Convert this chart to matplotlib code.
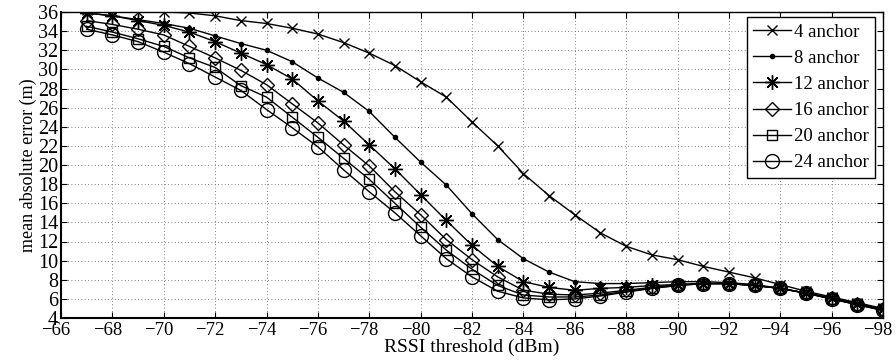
import numpy as np
import matplotlib
matplotlib.use('Agg')
import matplotlib.pyplot as plt
import matplotlib.transforms as mtransforms

plt.rcParams['font.family'] = ['Liberation Serif', 'DejaVu Serif']

# Umbral RSSI (dBm)
rssi = list(range(-67, -99, -1))

# Error medio absoluto (m) para cada numero de anclas
err_4 = [36.2, 36.1, 36.0, 36.0, 35.9, 35.6, 35.1, 34.8, 34.3, 33.7, 32.8, 31.7, 30.4, 28.7, 27.1, 24.5,
         22.0, 19.1, 16.8, 14.8, 12.9, 11.5, 10.6, 10.1, 9.4, 8.8, 8.2, 7.5, 6.8, 6.2, 5.6, 5.0]
err_8 = [35.9, 35.6, 35.2, 34.8, 34.3, 33.5, 32.7, 32.0, 30.8, 29.1, 27.6, 25.6, 22.9, 20.3, 17.9, 14.9,
         12.2, 10.2, 8.8, 7.8, 7.6, 7.6, 7.7, 7.8, 7.8, 7.7, 7.5, 7.1, 6.6, 6.1, 5.5, 4.9]
err_12 = [35.9, 35.6, 35.1, 34.6, 33.9, 32.9, 31.7, 30.5, 29.0, 26.7, 24.6, 22.1, 19.6, 16.9, 14.2, 11.6,
          9.4, 7.8, 7.2, 6.9, 7.1, 7.2, 7.4, 7.5, 7.6, 7.6, 7.4, 7.1, 6.6, 6.1, 5.5, 4.9]
err_16 = [35.1, 34.7, 34.2, 33.6, 32.4, 31.2, 29.9, 28.4, 26.4, 24.4, 22.1, 19.9, 17.2, 14.8, 12.2, 10.1,
          8.3, 6.9, 6.5, 6.4, 6.6, 6.9, 7.2, 7.5, 7.6, 7.6, 7.4, 7.1, 6.6, 6.0, 5.4, 4.8]
err_20 = [34.5, 33.9, 33.2, 32.4, 31.2, 30.2, 28.3, 27.1, 25.0, 22.9, 20.7, 18.5, 16.0, 13.5, 11.1, 9.1,
          7.4, 6.4, 6.2, 6.2, 6.4, 6.8, 7.1, 7.4, 7.6, 7.6, 7.4, 7.1, 6.6, 6.0, 5.4, 4.8]
err_24 = [34.2, 33.6, 32.9, 31.8, 30.6, 29.2, 27.8, 25.8, 23.9, 21.9, 19.5, 17.2, 15.0, 12.6, 10.2, 8.3,
          6.8, 6.1, 5.9, 6.0, 6.3, 6.7, 7.1, 7.4, 7.6, 7.6, 7.4, 7.1, 6.6, 6.0, 5.4, 4.8]

fig = plt.figure(figsize=(8.96, 3.62), dpi=100)
ax = fig.add_axes([61 / 896, 44 / 362, 822 / 896, 306 / 362])

k = dict(color='k', lw=1.0, mfc='none', mec='k', mew=1.0)
ax.plot(rssi, err_4, marker='x', ms=7.5, label='4 anchor', **k)
ax.plot(rssi, err_8, marker='.', ms=6, label='8 anchor', color='k', lw=1.0)
ax.plot(rssi, err_12, marker=(8, 2, 0), ms=10.5, label='12 anchor', **k)
ax.plot(rssi, err_16, marker='D', ms=7.5, label='16 anchor', **k)
ax.plot(rssi, err_20, marker='s', ms=7.5, label='20 anchor', **k)
ax.plot(rssi, err_24, marker='o', ms=10, label='24 anchor', **k)

ax.set_xlim(-66, -98)
ax.set_ylim(4, 36)
ax.set_xticks(np.arange(-66, -99, -2))
ax.set_yticks(np.arange(4, 37, 2))
ax.tick_params(direction='in', length=4, top=True, right=True, pad=2)
ax.tick_params(axis='x', labelsize=13.5, pad=3)
ax.tick_params(axis='y', labelsize=14.5)
ax.grid(True, linestyle=(0, (1, 3)), color='0.35', lw=0.6)
for s in ['left', 'bottom']:
    ax.spines[s].set_linewidth(1.5)
for s in ['top', 'right']:
    ax.spines[s].set_linewidth(1.0)

# las etiquetas del eje x van un poco a la izquierda, como en el original
shift = mtransforms.ScaledTranslation(-5 / 100, 0, fig.dpi_scale_trans)
for lab in ax.get_xticklabels():
    lab.set_transform(lab.get_transform() + shift)

ax.set_xlabel('RSSI threshold (dBm)', fontsize=14, labelpad=0)
ax.set_ylabel('mean absolute error (m)', fontsize=13, labelpad=1)

leg = ax.legend(loc='upper right', bbox_to_anchor=(1 - 8 / 822, 1 - 5 / 306), borderaxespad=0,
                fancybox=False, edgecolor='k', fontsize=13.5, numpoints=1, handlelength=2.0,
                handletextpad=0.15, labelspacing=0.48, borderpad=0.35, framealpha=1)
leg.get_frame().set_linewidth(1.0)

fig.savefig('out.png', dpi=100)
